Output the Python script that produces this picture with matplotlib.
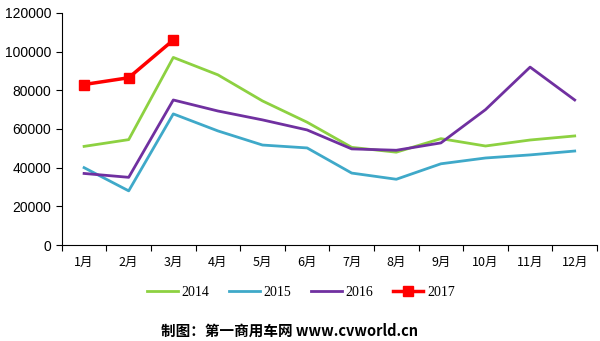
import numpy as np
from matplotlib import pyplot as plt

months = ['1月', '2月', '3月', '4月', '5月', '6月', '7月', '8月', '9月', '10月', '11月', '12月']
y2014 = [51000, 54500, 97000, 88000, 74500, 63500, 50500, 48000, 55000, 51200, 54300, 56400]
y2015 = [40000, 28000, 67800, 59000, 51700, 50200, 37200, 34000, 42000, 45000, 46600, 48600]
y2016 = [37000, 35000, 75000, 69300, 64700, 59500, 49700, 49000, 52800, 70000, 92000, 75000]
y2017 = [83000, 86500, 106000]

fig = plt.figure(figsize=(6, 3.41), dpi=100)
ax = fig.add_axes([0.103, 0.2815, 0.892, 0.6805])

x = np.arange(1, 13)
ax.plot(x, y2014, color='#8dd141', lw=2, label='2014')
ax.plot(x, y2015, color='#3fa9c9', lw=2, label='2015')
ax.plot(x, y2016, color='#7030a0', lw=2, label='2016')
ax.plot(x[:3], y2017, color='#ff0000', lw=2.5, marker='s', ms=7, label='2017')

ax.set_xlim(0.5, 12.5)
ax.set_ylim(0, 120000)
ax.set_yticks(np.arange(0, 120001, 20000))
ax.set_yticklabels([str(v) for v in range(0, 120001, 20000)], family='Liberation Sans', fontsize=10)
ax.set_xticks(np.arange(0.5, 12.6, 1))
ax.set_xticklabels([])
ax.set_xticks(x, minor=True)
ax.set_xticklabels(months, minor=True, family=['Noto Sans CJK SC'], fontsize=9)
ax.tick_params(axis='x', which='minor', length=0, pad=8)
ax.tick_params(axis='x', which='major', length=4)
ax.tick_params(axis='y', length=4)
for s in ['top', 'right']:
    ax.spines[s].set_visible(False)

leg = fig.legend(loc='center', bbox_to_anchor=(0.502, 0.143), ncol=4, frameon=False,
                 prop={'family': 'Liberation Serif', 'size': 10}, columnspacing=1.4,
                 handlelength=2.2, handletextpad=0.3)

fig.text(0.483, 0.03, '制图：第一商用车网 www.cvworld.cn', ha='center', va='center',
         family=['Noto Sans CJK SC'], fontsize=10.5, fontweight='bold')

fig.savefig('out.png', dpi=100)
